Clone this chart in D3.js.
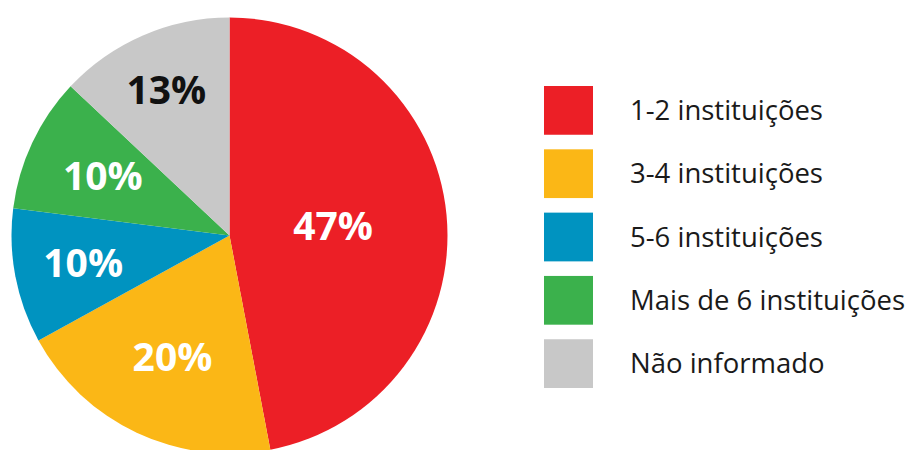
<!DOCTYPE html>
<meta charset="utf-8">
<head>
  <style>
    body { margin: 0; background: #fff; }
    svg { display: block; }
    .pct { font-family: "Open Sans", sans-serif; font-weight: 700; }
    .legend text { font-family: "Open Sans", sans-serif; fill: #1a1a1a; }
  </style>
  <script src="https://d3js.org/d3.v7.min.js"></script>
</head>
<body>
  <svg width="914" height="450"></svg>
  <script>
    // chart data
    var categories = ["1-2 instituições", "3-4 instituições", "5-6 instituições", "Mais de 6 instituições", "Não informado"];
    var values = [47, 20, 10, 10, 13];
    var colors = ["#ec1f26", "#fbb716", "#0093c0", "#3bb14c", "#c8c8c8"];
    var labelColors = ["#fff", "#fff", "#fff", "#fff", "#111"];

    // layout
    var cx = 229.5, cy = 235.5, radius = 218;
    var labelRadius = [104, 134, 149, 140, 159];

    var svg = d3.select("svg");

    var pie = d3.pie().sort(null).value(function(d) { return d; });
    var arcs = pie(values);
    var arc = d3.arc().innerRadius(0).outerRadius(radius);

    var g = svg.append("g").attr("transform", "translate(" + cx + "," + cy + ")");

    g.selectAll("path")
      .data(arcs)
      .enter()
      .append("path")
      .attr("d", arc)
      .attr("fill", function(d, i) { return colors[i]; });

    g.selectAll("text")
      .data(arcs)
      .enter()
      .append("text")
      .attr("class", "pct")
      .attr("transform", function(d, i) {
        var a = (d.startAngle + d.endAngle) / 2;
        return "translate(" + (Math.sin(a) * labelRadius[i]) + "," + (-Math.cos(a) * labelRadius[i]) + ")";
      })
      .attr("text-anchor", "middle")
      .attr("dy", "0.36em")
      .attr("font-size", 39)
      .attr("fill", function(d, i) { return labelColors[i]; })
      .text(function(d) { return d.data + "%"; });

    // legend
    var y = d3.scaleBand()
      .domain(categories)
      .range([86, 388])
      .paddingInner(0.23)
      .paddingOuter(0);

    var legend = svg.append("g").attr("class", "legend");

    var rows = legend.selectAll("g")
      .data(categories)
      .enter()
      .append("g")
      .attr("transform", function(d) { return "translate(544," + y(d) + ")"; });

    rows.append("rect")
      .attr("width", 49)
      .attr("height", y.bandwidth())
      .attr("fill", function(d, i) { return colors[i]; });

    rows.append("text")
      .attr("x", 86)
      .attr("y", y.bandwidth() / 2)
      .attr("dy", "0.35em")
      .attr("font-size", 27.5)
      .text(function(d) { return d; });
  </script>
</body>
